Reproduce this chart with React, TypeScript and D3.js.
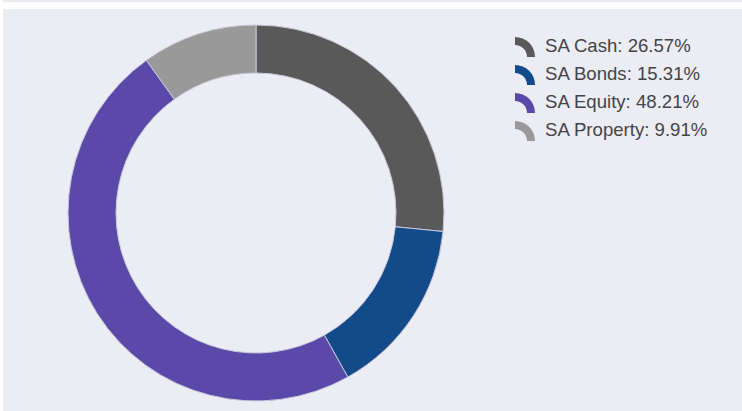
import React from "react";
import * as d3 from "d3";

const categories = ["SA Cash", "SA Bonds", "SA Equity", "SA Property"];
const values = [26.57, 15.31, 48.21, 9.91];
const colors = ["#595959", "#124a8a", "#5a49a8", "#999999"];

const W = 742;
const H = 411;
const cx = 256;
const cy = 213;
const outerR = 188;
const innerR = 140;

export default function App() {
  const pie = d3.pie<number>().sort(null).value((d) => d)(values);
  const arc = d3.arc<d3.PieArcDatum<number>>().innerRadius(innerR).outerRadius(outerR);
  const iconArc = d3.arc()({ innerRadius: 12, outerRadius: 20, startAngle: 0, endAngle: Math.PI / 2 } as any) as string;
  const legendY = d3.scaleLinear().domain([0, 1]).range([52, 80]);

  return (
    <svg width={W} height={H} style={{ position: "absolute", left: 0, top: 0, display: "block" }}>
      <rect x={0} y={0} width={W} height={H} fill="#ffffff" />
      <rect x={3} y={0} width={W - 3} height={2} fill="#ececf5" />
      <rect x={3} y={9} width={W - 3} height={H - 9} fill="#ececf5" />
      <g transform={`translate(${cx},${cy})`}>
        {pie.map((p, i) => (
          <path key={i} d={arc(p) as string} fill={colors[i]} stroke="#c8c8dc" strokeWidth={1} />
        ))}
      </g>
      <g>
        {categories.map((c, i) => (
          <g key={c} transform={`translate(0,${legendY(i)})`}>
            <path d={iconArc} transform="translate(515,5)" fill={colors[i]} />
            <text x={545} y={0} fontFamily="Liberation Sans, Arial, sans-serif" fontSize={18.6} fill="#444444">
              {`${c}: ${values[i].toFixed(2)}%`}
            </text>
          </g>
        ))}
      </g>
    </svg>
  );
}
